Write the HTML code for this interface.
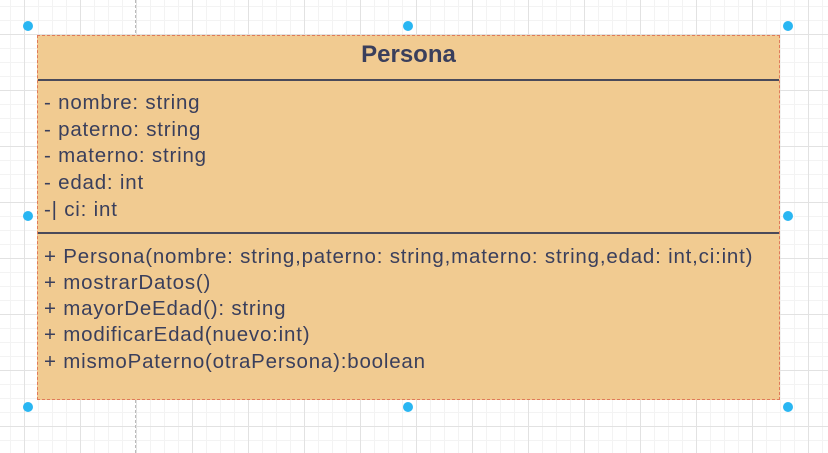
<!DOCTYPE html>
<html><head><style>
body{margin:0;width:828px;height:453px;overflow:hidden;background:#fff;font-family:"Liberation Sans",Arial,sans-serif;position:relative;
background-image:
linear-gradient(to right,#e2e2e2 1px,transparent 1px),
linear-gradient(to bottom,#e2e2e2 1px,transparent 1px),
linear-gradient(to right,#f3f3f3 1px,transparent 1px),
linear-gradient(to bottom,#f3f3f3 1px,transparent 1px);
background-size:56px 56px,56px 56px,14px 14px,14px 14px;
background-position:24px 34px,24px 34px,24px 34px,24px 34px;}
.vd{position:absolute;left:135px;top:0;height:453px;border-left:1px dashed #bbb;}
.box{position:absolute;left:37px;top:35px;width:741px;height:363px;background:#f1cb91;border:1px dashed #e07a5a;}
.t{position:absolute;left:0;width:100%;top:5px;text-align:center;font-weight:bold;font-size:24px;color:#3a3f5c;}
.hl{position:absolute;left:0;width:100%;border-top:2px solid #4a4a5a;}
.l{position:absolute;left:6px;font-size:20.5px;letter-spacing:0.8px;color:#3a3f5c;white-space:nowrap;}
.d{position:absolute;width:10px;height:10px;border-radius:50%;background:#29b6f2;}
</style></head><body>
<div class="vd"></div>
<div class="box">
<div class="t">Persona</div>
<div class="hl" style="top:43px"></div>
<div class="l" style="top:55px">- nombre: string</div>
<div class="l" style="top:82px">- paterno: string</div>
<div class="l" style="top:108px">- materno: string</div>
<div class="l" style="top:135px">- edad: int</div>
<div class="l" style="top:162px">-| ci: int</div>
<div class="hl" style="top:196px"></div>
<div class="l" style="top:209px">+ Persona(nombre: string,paterno: string,materno: string,edad: int,ci:int)</div>
<div class="l" style="top:235px">+ mostrarDatos()</div>
<div class="l" style="top:261px">+ mayorDeEdad(): string</div>
<div class="l" style="top:287px">+ modificarEdad(nuevo:int)</div>
<div class="l" style="top:314px">+ mismoPaterno(otraPersona):boolean</div>
</div>
<div class="d" style="left:23px;top:21px"></div>
<div class="d" style="left:403px;top:21px"></div>
<div class="d" style="left:783px;top:21px"></div>
<div class="d" style="left:23px;top:211px"></div>
<div class="d" style="left:783px;top:211px"></div>
<div class="d" style="left:23px;top:402px"></div>
<div class="d" style="left:403px;top:402px"></div>
<div class="d" style="left:783px;top:402px"></div>
</body></html>
